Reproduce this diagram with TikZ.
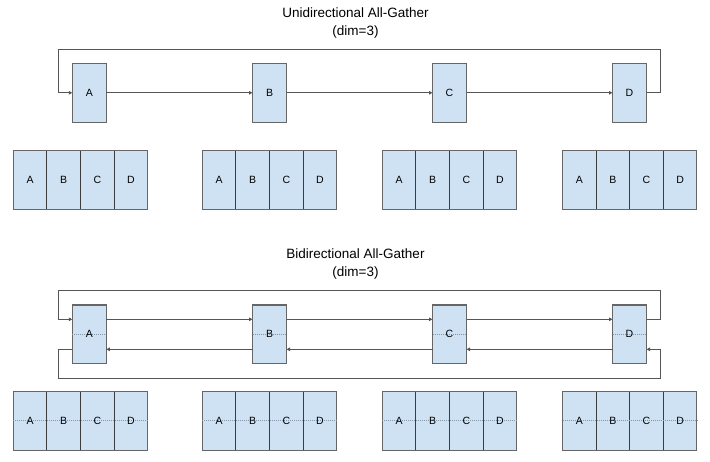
\documentclass[tikz,border=0pt]{standalone}
\usepackage{fontspec}
\setmainfont{Liberation Sans}
\usetikzlibrary{arrows.meta,calc}
\definecolor{boxfill}{HTML}{CFE2F3}
\definecolor{boxline}{HTML}{666666}
\definecolor{divline}{HTML}{3C3C3C}
\definecolor{wire}{HTML}{555555}
\definecolor{dotc}{HTML}{8497A8}
\tikzset{
  lbl/.style={font=\fontsize{10.5}{12}\selectfont},
  rank/.style={draw=boxline, fill=boxfill, line width=1pt, minimum width=34pt, minimum height=59pt, inner sep=0pt, outer sep=0pt, lbl},
  cell/.style={draw=divline, fill=boxfill, line width=1pt, minimum width=33.6pt, minimum height=59.3pt, inner sep=0pt, outer sep=0pt, lbl},
  outer/.style={draw=boxline, line width=1pt},
  wirestyle/.style={draw=wire, line width=1pt},
  arr/.style={wirestyle, -{Triangle[length=3.5pt,width=3.5pt]}},
  dotline/.style={draw=dotc, line width=0.8pt, dash pattern=on 1pt off 1pt},
  title/.style={align=center, font=\fontsize{13.5}{17.5}\selectfont}
}
\begin{document}
\begin{tikzpicture}[x=1pt,y=-1pt]
\useasboundingbox (0,0) rectangle (710,461);
\fill[white] (0,0) rectangle (710,461);

% ---------- Unidirectional ----------
\node[title] (t1) at (355.5,23) {Unidirectional All-Gather\\(dim=3)};
\node[rank] (uA) at (89.3,92.8) {A};
\node[rank] (uB) at (269.5,92.8) {B};
\node[rank] (uC) at (449.5,92.8) {C};
\node[rank] (uD) at (629.5,92.8) {D};
\draw[arr] (uA) -- (uB);
\draw[arr] (uB) -- (uC);
\draw[arr] (uC) -- (uD);
\coordinate (uR) at (660.7,49.3);
\coordinate (uL) at (58.3,49.3);
\draw[arr] (uD.east) -| (uR) -- (uL) |- (uA.west);

% result buffers (top)
\foreach \g/\x in {1/13.3,2/202.3,3/382.3,4/562.5}{
  \foreach \i/\l in {0/A,1/B,2/C,3/D}{
    \node[cell] (u\g\l) at ({\x+16.8+33.6*\i},179.7) {\l};
  }
  \draw[outer] (u\g A.north west) rectangle (u\g D.south east);
}

% ---------- Bidirectional ----------
\node[title] (t2) at (355.5,264) {Bidirectional All-Gather\\(dim=3)};
\foreach \n/\x in {A/89.3,B/269.5,C/449.5,D/629.5}{
  \node[rank] (b\n) at (\x,334.3) {};
  \draw[dotline] (b\n.west) -- (b\n.east);
  \node[lbl, inner sep=0pt] (b\n t) at (b\n.center) {\n};
  \draw[draw=boxline, line width=1.6pt] ([yshift=-0.3pt]b\n.north west) -- ([yshift=-0.3pt]b\n.north east);
}
% upper ring (clockwise)
\draw[arr] ([yshift=15pt]bA.east) -- ([yshift=15pt]bB.west);
\draw[arr] ([yshift=15pt]bB.east) -- ([yshift=15pt]bC.west);
\draw[arr] ([yshift=15pt]bC.east) -- ([yshift=15pt]bD.west);
\coordinate (bTR) at (660.7,290);
\coordinate (bTL) at (58.3,290);
\draw[arr] ([yshift=15pt]bD.east) -| (bTR) -- (bTL) |- ([yshift=15pt]bA.west);
% lower ring (counter-clockwise)
\draw[arr] ([yshift=-15pt]bB.west) -- ([yshift=-15pt]bA.east);
\draw[arr] ([yshift=-15pt]bC.west) -- ([yshift=-15pt]bB.east);
\draw[arr] ([yshift=-15pt]bD.west) -- ([yshift=-15pt]bC.east);
\coordinate (bBL) at (58.3,378.3);
\coordinate (bBR) at (660.7,378.3);
\draw[arr] ([yshift=-15pt]bA.west) -| (bBL) -- (bBR) |- ([yshift=-15pt]bD.east);

% result buffers (bottom)
\foreach \g/\x in {1/13.3,2/202.3,3/382.3,4/562.5}{
  \foreach \i/\l in {0/A,1/B,2/C,3/D}{
    \node[cell] (d\g\l) at ({\x+16.8+33.6*\i},420.8) {};
  }
  \draw[outer] (d\g A.north west) rectangle (d\g D.south east);
  \draw[dotline] (d\g A.west) -- (d\g D.east);
  \foreach \l in {A,B,C,D}{
    \node[lbl, inner sep=0pt] at (d\g\l.center) {\l};
  }
}
\end{tikzpicture}
\end{document}
